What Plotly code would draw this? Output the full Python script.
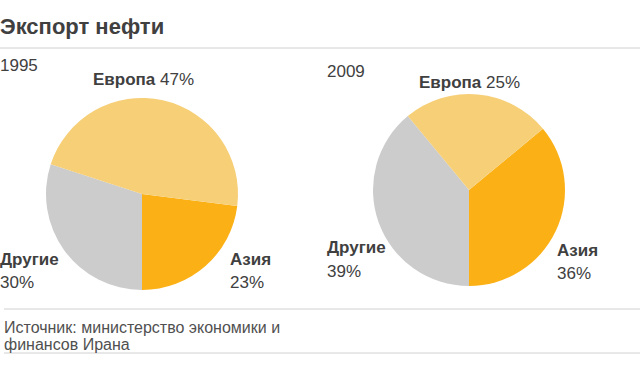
import plotly.graph_objects as go

title = "Экспорт нефти"
years = ["1995", "2009"]
regions = ["Азия", "Другие", "Европа"]
shares_1995 = [23, 30, 47]
shares_2009 = [36, 39, 25]
colors = ["#FBB116", "#CCCCCC", "#F6CF77"]
source_lines = ["Источник: министерство экономики и", "финансов Ирана"]

W, H = 640, 376
FONT = "Liberation Sans, Arial, Helvetica, sans-serif"
TXT = "#404040"

def py(px):
    return 1 - px / H

def px_x(px):
    return px / W

fig = go.Figure()

def add_pie(values, cx, cy, r):
    fig.add_trace(go.Pie(
        labels=regions, values=values, sort=False, direction="clockwise",
        rotation=180 - values[0] * 3.6,
        marker=dict(colors=colors, line=dict(width=0)),
        textinfo="none", hoverinfo="label+percent", showlegend=False,
        domain=dict(x=[px_x(cx - r), px_x(cx + r)], y=[py(cy + r), py(cy - r)]),
    ))

add_pie(shares_1995, 142, 194, 96)
add_pie(shares_2009, 469, 190, 96)

ann = []
def text(s, x, y, size=17, color=TXT):
    ann.append(dict(text=s, x=px_x(x - 1), y=py(y), xref="paper", yref="paper",
                    xanchor="left", yanchor="middle", showarrow=False, borderpad=0,
                    font=dict(family=FONT, size=size, color=color)))

text(f"<b>{title}</b>", 0, 26, size=22)
# 1995
text(years[0], 0, 65, size=17)
text(f"<b>{regions[2]}</b> {shares_1995[2]}%", 93, 80)
text(f"<b>{regions[1]}</b>", 0, 259)
text(f"{shares_1995[1]}%", 0, 282)
text(f"<b>{regions[0]}</b>", 230, 259)
text(f"{shares_1995[0]}%", 230, 282)
# 2009
text(years[1], 327, 71, size=17)
text(f"<b>{regions[2]}</b> {shares_2009[2]}%", 419, 82)
text(f"<b>{regions[1]}</b>", 327, 248)
text(f"{shares_2009[1]}%", 327, 271)
text(f"<b>{regions[0]}</b>", 557, 250)
text(f"{shares_2009[0]}%", 557, 273)
# source
text(source_lines[0], 4, 327, size=16, color="#505050")
text(source_lines[1], 4, 344, size=16, color="#505050")

shapes = [
    dict(type="line", xref="paper", yref="paper", x0=0, x1=1, y0=py(48), y1=py(48),
         line=dict(color="#D0D0D0", width=1)),
    dict(type="line", xref="paper", yref="paper", x0=px_x(4), x1=1, y0=py(309), y1=py(309),
         line=dict(color="#D0D0D0", width=1)),
    dict(type="line", xref="paper", yref="paper", x0=px_x(4), x1=1, y0=py(353), y1=py(353),
         line=dict(color="#D0D0D0", width=1)),
]

fig.update_layout(width=W, height=H, margin=dict(l=0, r=0, t=0, b=0),
                  paper_bgcolor="white", plot_bgcolor="white",
                  annotations=ann, shapes=shapes)
fig.write_html("out.html", config={"displayModeBar": False},
               post_script="document.body.style.margin='0';document.body.style.padding='0';")
